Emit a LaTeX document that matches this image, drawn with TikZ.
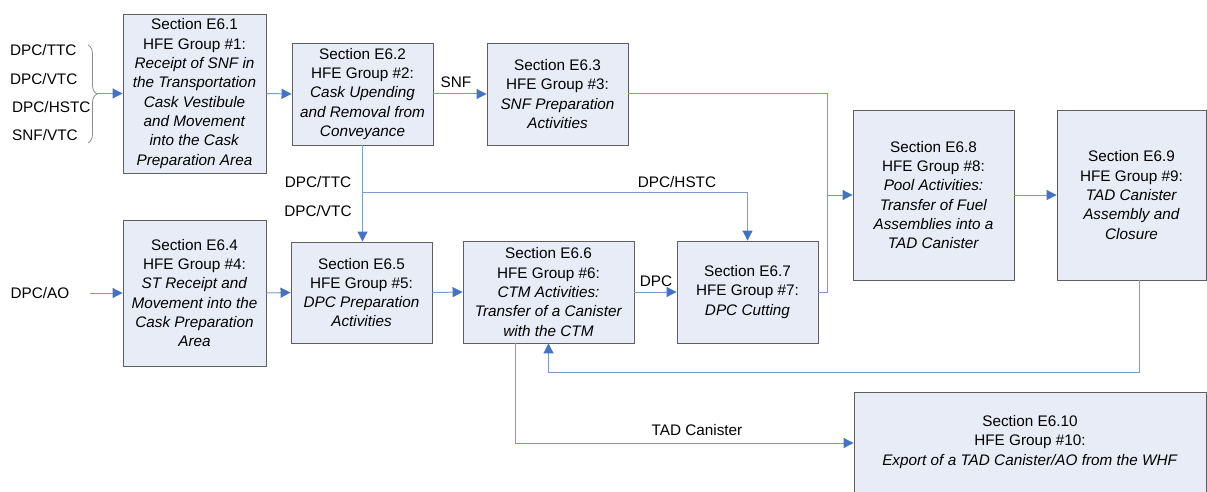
\documentclass[tikz,border=0pt]{standalone}
\usepackage{fontspec}
\setmainfont{Liberation Sans}
\usetikzlibrary{arrows.meta,decorations.pathreplacing}
\definecolor{boxfill}{RGB}{232,236,246}
\definecolor{boxline}{RGB}{95,95,95}
\definecolor{connc}{RGB}{125,155,200}
\definecolor{tipc}{RGB}{68,114,196}
\definecolor{bracec}{RGB}{140,140,140}
\begin{document}
\begin{tikzpicture}[x=1pt,y=-1pt,
  font=\fontsize{15.3}{19.3}\selectfont,
  box/.style={draw=boxline, fill=boxfill, line width=0.9pt, align=center, inner sep=0pt},
  conn/.style={draw=connc, line width=1pt},
  arr/.style={conn, -{Triangle[length=10pt,width=10pt,color=tipc]}},
  lbl/.style={inner sep=0pt}]
\useasboundingbox (0,0) rectangle (1207,492);

% boxes
\node[box, minimum width=143pt, minimum height=159pt] (e61) at (194.5,93.5)
 {Section E6.1\\HFE Group \#1:\\\textit{Receipt of SNF in}\\\textit{the Transportation}\\\textit{Cask Vestibule}\\\textit{and Movement}\\\textit{into the Cask}\\\textit{Preparation Area}};
\node[box, minimum width=141pt, minimum height=102pt] (e62) at (362.5,94)
 {Section E6.2\\HFE Group \#2:\\\textit{Cask Upending}\\\textit{and Removal from}\\\textit{Conveyance}};
\node[box, minimum width=141pt, minimum height=102pt] (e63) at (557.5,94)
 {Section E6.3\\HFE Group \#3:\\\textit{SNF Preparation}\\\textit{Activities}};
\node[box, minimum width=143pt, minimum height=146pt] (e64) at (194.5,293)
 {Section E6.4\\HFE Group \#4:\\\textit{ST Receipt and}\\\textit{Movement into the}\\\textit{Cask Preparation}\\\textit{Area}};
\node[box, minimum width=141pt, minimum height=101pt] (e65) at (361.5,292.5)
 {Section E6.5\\HFE Group \#5:\\\textit{DPC Preparation}\\\textit{Activities}};
\node[box, minimum width=171pt, minimum height=102pt] (e66) at (548.5,292)
 {Section E6.6\\HFE Group \#6:\\\textit{CTM Activities:}\\\textit{Transfer of a Canister}\\\textit{with the CTM}};
\node[box, minimum width=141pt, minimum height=102pt] (e67) at (747.5,292)
 {Section E6.7\\HFE Group \#7:\\\textit{DPC Cutting}};
\node[box, minimum width=161pt, minimum height=170pt] (e68) at (933.5,195)
 {Section E6.8\\HFE Group \#8:\\\textit{Pool Activities:}\\\textit{Transfer of Fuel}\\\textit{Assemblies into a}\\\textit{TAD Canister}};
\node[box, minimum width=149pt, minimum height=170pt] (e69) at (1131.5,195)
 {Section E6.9\\HFE Group \#9:\\\textit{TAD Canister}\\\textit{Assembly and}\\\textit{Closure}};
\node[box, minimum width=352pt, minimum height=100pt] (e610) at (1030,442)
 {Section E6.10\\HFE Group \#10:\\\textit{Export of a TAD Canister/AO from the WHF}};

% left labels and brace
\node[lbl, anchor=west] (l1) at (10,50) {DPC/TTC};
\node[lbl, anchor=west] (l2) at (10,79) {DPC/VTC};
\node[lbl, anchor=west] (l3) at (12,107) {DPC/HSTC};
\node[lbl, anchor=west] (l4) at (12,135) {SNF/VTC};
\coordinate (bt) at (88,45);
\coordinate (bb) at (88,143);
\draw[draw=bracec, line width=0.8pt, decorate, decoration={brace, amplitude=9pt}] (bt) -- (bb);
\coordinate (bc) at (97,93.5);
\draw[arr] (bc) -- (e61.west);

\node[lbl] (ao) at (40,293) {DPC/AO};
\coordinate (aos) at (90,293);
\draw[arr] (aos) -- (e64.west);

% top row
\draw[arr] (e61.east) -- (e62.west);
\draw[arr] (e62.east) -- (e63.west);
\node[lbl] (snf) at (456,82) {SNF};

\coordinate (m8) at (827,195);
\draw[conn] (e63.east) -| (m8);
\draw[conn] (e67.east) -| (m8);
\draw[arr] (m8) -- (e68.west);
\draw[arr] (e68.east) -- (e69.west);

% down from E6.2
\draw[arr] (e62.south) -- (e62.south |- e65.north);
\node[lbl] (ttc) at (318,182) {DPC/TTC};
\node[lbl] (vtc) at (318,211) {DPC/VTC};
\coordinate (hs) at (362,192);
\draw[arr] (hs) -| (e67.north);
\node[lbl] (hstc) at (677,182) {DPC/HSTC};

% bottom row
\draw[arr] (e64.east) -- (e65.west);
\draw[arr] (e65.east) -- (e66.west);
\draw[arr] (e66.east) -- (e67.west);
\node[lbl] (dpc) at (656,281) {DPC};

% return from E6.9
\coordinate (r1) at (1139,372);
\draw[arr] (r1 |- e69.south) -- (r1) -| (e66.south);

% to E6.10
\coordinate (tc) at (515,443);
\draw[arr] (tc |- e66.south) -- (tc) -- (e610.west |- tc);
\node[lbl] (tad) at (697,430) {TAD Canister};
\end{tikzpicture}
\end{document}
